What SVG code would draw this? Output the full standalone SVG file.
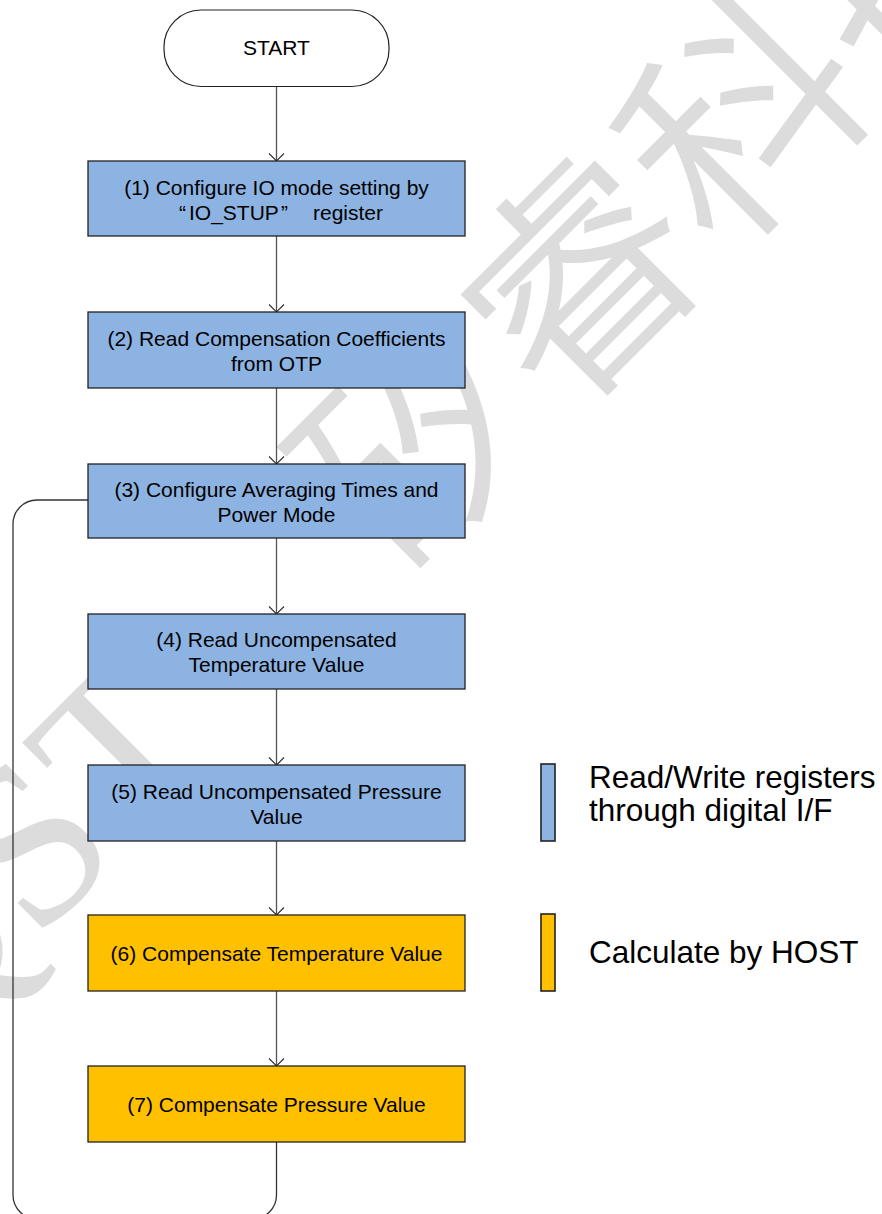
<svg xmlns="http://www.w3.org/2000/svg" width="882" height="1214" viewBox="0 0 882 1214">
  <defs>
    <style>
      .box { stroke: #222; stroke-width: 1.3; }
      .blue { fill: #8db3e2; }
      .orange { fill: #ffc000; }
      .lbl { font-family: "Liberation Sans", Arial, sans-serif; font-size: 21px; fill: #000; text-anchor: middle; }
      .legend { font-family: "Liberation Sans", Arial, sans-serif; font-size: 31.5px; fill: #000; }
      .conn { fill: none; stroke: #555; stroke-width: 1.3; }
      .wm { fill: #dcdcdc; font-size: 230px; font-weight: 350; }
    </style>
    <marker id="arrow" markerUnits="userSpaceOnUse" viewBox="-10 -10 20 20" markerWidth="20" markerHeight="20" refX="0" refY="0" orient="auto" overflow="visible">
      <path d="M-7.5,-7.5 L0,0 L-7.5,7.5" fill="none" stroke="#333" stroke-width="1.2"/>
    </marker>
  </defs>

  <rect width="882" height="1214" fill="#fff"/>

  <!-- background watermark -->
  <g id="watermark" class="wm">
    <text transform="translate(395,583) rotate(-45)" font-family="'Noto Sans CJK SC', sans-serif">矽睿科技</text>
    <text transform="translate(225,753) rotate(-45)" text-anchor="end" font-family="'Liberation Serif', serif">QST</text>
  </g>

  <!-- connectors -->
  <g id="connectors">
    <line class="conn" x1="276.5" y1="86.5" x2="276.5" y2="161" marker-end="url(#arrow)"/>
    <line class="conn" x1="276.5" y1="236" x2="276.5" y2="312" marker-end="url(#arrow)"/>
    <line class="conn" x1="276.5" y1="388" x2="276.5" y2="464" marker-end="url(#arrow)"/>
    <line class="conn" x1="276.5" y1="538" x2="276.5" y2="614" marker-end="url(#arrow)"/>
    <line class="conn" x1="276.5" y1="689" x2="276.5" y2="765" marker-end="url(#arrow)"/>
    <line class="conn" x1="276.5" y1="841" x2="276.5" y2="915" marker-end="url(#arrow)"/>
    <line class="conn" x1="276.5" y1="991" x2="276.5" y2="1066" marker-end="url(#arrow)"/>
    <!-- loop back from (7) to (3) -->
    <path class="conn" style="stroke:#333" d="M276.5,1142 V1195 A24,24 0 0 1 252.5,1219 H37 A24,24 0 0 1 13,1195 V524 A24,24 0 0 1 37,500 H88"/>
  </g>

  <g id="start">
    <rect x="164" y="10" width="225" height="76.5" rx="37" ry="37" fill="#fff" stroke="#222" stroke-width="1.2"/>
    <text class="lbl" x="276.5" y="55">START</text>
  </g>

  <g id="step1">
    <rect class="box blue" x="88" y="161" width="377" height="75"/>
    <text class="lbl" x="276.5" y="194.5">(1) Configure IO mode setting by</text>
    <text class="lbl" y="219.5" style="text-anchor:start"><tspan x="179">“</tspan><tspan x="189">IO_STUP</tspan><tspan x="281">”</tspan><tspan x="313">register</tspan></text>
  </g>

  <g id="step2">
    <rect class="box blue" x="88" y="312" width="377" height="76"/>
    <text class="lbl" x="276.5" y="345.5">(2) Read Compensation Coefficients</text>
    <text class="lbl" x="276.5" y="370.5">from OTP</text>
  </g>

  <g id="step3">
    <rect class="box blue" x="88" y="464" width="377" height="74"/>
    <text class="lbl" x="276.5" y="496.5">(3) Configure Averaging Times and</text>
    <text class="lbl" x="276.5" y="521.5">Power Mode</text>
  </g>

  <g id="step4">
    <rect class="box blue" x="88" y="614" width="377" height="75"/>
    <text class="lbl" x="276.5" y="647">(4) Read Uncompensated</text>
    <text class="lbl" x="276.5" y="672">Temperature Value</text>
  </g>

  <g id="step5">
    <rect class="box blue" x="88" y="765" width="377" height="76"/>
    <text class="lbl" x="276.5" y="798.5">(5) Read Uncompensated Pressure</text>
    <text class="lbl" x="276.5" y="823.5">Value</text>
  </g>

  <g id="step6">
    <rect class="box orange" x="88" y="915" width="377" height="76"/>
    <text class="lbl" x="276.5" y="960.5">(6) Compensate Temperature Value</text>
  </g>

  <g id="step7">
    <rect class="box orange" x="88" y="1066" width="377" height="76"/>
    <text class="lbl" x="276.5" y="1111.5">(7) Compensate Pressure Value</text>
  </g>

  <!-- legend -->
  <g id="legend-rw">
    <rect class="box blue" x="541" y="764" width="14" height="77" style="stroke-width:1.6"/>
    <text class="legend" x="589" y="787.5">Read/Write registers</text>
    <text class="legend" x="589" y="821">through digital I/F</text>
  </g>
  <g id="legend-host">
    <rect class="box orange" x="541" y="914" width="14" height="77" style="stroke-width:1.6"/>
    <text class="legend" x="589" y="963">Calculate by HOST</text>
  </g>
</svg>
